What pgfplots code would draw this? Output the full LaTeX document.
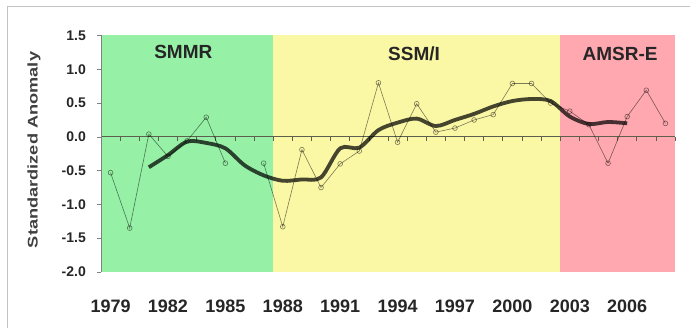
\documentclass[border=0pt]{standalone}
\usepackage{pgfplots}
\pgfplotsset{compat=1.18}
\usepackage{pgfplotstable}
\usepackage{fontspec}
\setmainfont{Liberation Sans}
\definecolor{bandgreen}{RGB}{150,240,165}
\definecolor{bandyellow}{RGB}{250,247,165}
\definecolor{bandpink}{RGB}{255,168,175}
\definecolor{framegray}{RGB}{195,195,195}
\definecolor{zl}{RGB}{95,95,80}
\definecolor{thick}{RGB}{40,30,0}

\pgfplotstableread{
year val
1979 -0.53
1980 -1.35
1981 0.04
1982 -0.29
1983 -0.06
1984 0.29
1985 -0.39
1986 nan
1987 -0.39
1988 -1.33
1989 -0.19
1990 -0.75
1991 -0.40
1992 -0.21
1993 0.80
1994 -0.08
1995 0.49
1996 0.07
1997 0.13
1998 0.25
1999 0.33
2000 0.79
2001 0.79
2002 0.50
2003 0.38
2004 0.18
2005 -0.39
2006 0.30
2007 0.69
2008 0.20
}\rawdata

\pgfplotstableread{
year val
1981 -0.45
1982 -0.27
1983 -0.07
1984 -0.09
1985 -0.17
1986 -0.42
1987 -0.57
1988 -0.65
1989 -0.63
1990 -0.60
1991 -0.17
1992 -0.16
1993 0.10
1994 0.21
1995 0.27
1996 0.16
1997 0.25
1998 0.34
1999 0.45
2000 0.53
2001 0.56
2002 0.53
2003 0.30
2004 0.19
2005 0.22
2006 0.20
}\smoothdata

\begin{document}
\begin{tikzpicture}
\useasboundingbox (0,0) rectangle (690pt,328pt);
\fill[white] (0,0) rectangle (690pt,328pt);
\draw[framegray, line width=1pt] (7pt,-10pt) rectangle (700pt,321pt);
\begin{axis}[
  at={(101pt,56pt)}, anchor=south west,
  scale only axis, width=574pt, height=236.5pt,
  xmin=1978.5, xmax=2008.5, ymin=-2, ymax=1.5,
  axis on top,
  axis y line*=left, axis x line*=bottom,
  x axis line style={draw=none},
  y axis line style={draw=gray, line width=0.7pt},
  xtick={1979,1982,1985,1988,1991,1994,1997,2000,2003,2006},
  xticklabels={1979,1982,1985,1988,1991,1994,1997,2000,2003,2006},
  xtick style={draw=none},
  ytick={-2,-1.5,-1,-0.5,0,0.5,1,1.5},
  yticklabels={-2.0,-1.5,-1.0,-0.5,0.0,0.5,1.0,1.5},
  ytick style={draw=gray, line width=0.7pt},
  major tick length=4pt, tick align=outside,
  xticklabel style={font=\bfseries\fontsize{18}{20}\selectfont, text=black!85, anchor=center, yshift=-30pt},
  yticklabel style={font=\bfseries\fontsize{14}{16}\selectfont, text=black!85, anchor=east, inner sep=0pt, xshift=-11pt},
  ylabel={\scalebox{1.3}[1]{\bfseries\fontsize{14}{16}\selectfont Standardized Anomaly}},
  ylabel style={at={(axis description cs:-0.1167,0.516)}, rotate=0, anchor=center, text=black!75},
  unbounded coords=jump,
  clip=false,
]
\fill[bandgreen] (axis cs:1978.5,-2) rectangle (axis cs:1987.5,1.5);
\fill[bandyellow] (axis cs:1987.5,-2) rectangle (axis cs:2002.5,1.5);
\fill[bandpink] (axis cs:2002.5,-2) rectangle (axis cs:2008.5,1.5);
\draw[zl, line width=0.8pt] (axis cs:1978.5,0) -- (axis cs:2008.5,0);
\pgfplotsinvokeforeach{1978.5,1979.5,...,2008.5}{
  \draw[zl, line width=0.7pt] (axis cs:#1,0) -- ++(0pt,-4pt);
}
\addplot[black, opacity=0.5, line width=0.6pt, mark=o, mark size=2.4pt, mark options={solid}] table[x=year,y=val] {\rawdata};
\addplot[thick, opacity=0.72, line width=3.8pt, smooth, tension=0.5] table[x=year,y=val] {\smoothdata};
\node[font=\bfseries\fontsize{19}{21}\selectfont, text=black!85] at (axis cs:1982.8,1.26) {SMMR};
\node[font=\bfseries\fontsize{19}{21}\selectfont, text=black!85] at (axis cs:1994.86,1.23) {SSM/I};
\node[font=\bfseries\fontsize{19}{21}\selectfont, text=black!85] at (axis cs:2005.63,1.23) {AMSR-E};
\end{axis}
\end{tikzpicture}
\end{document}
